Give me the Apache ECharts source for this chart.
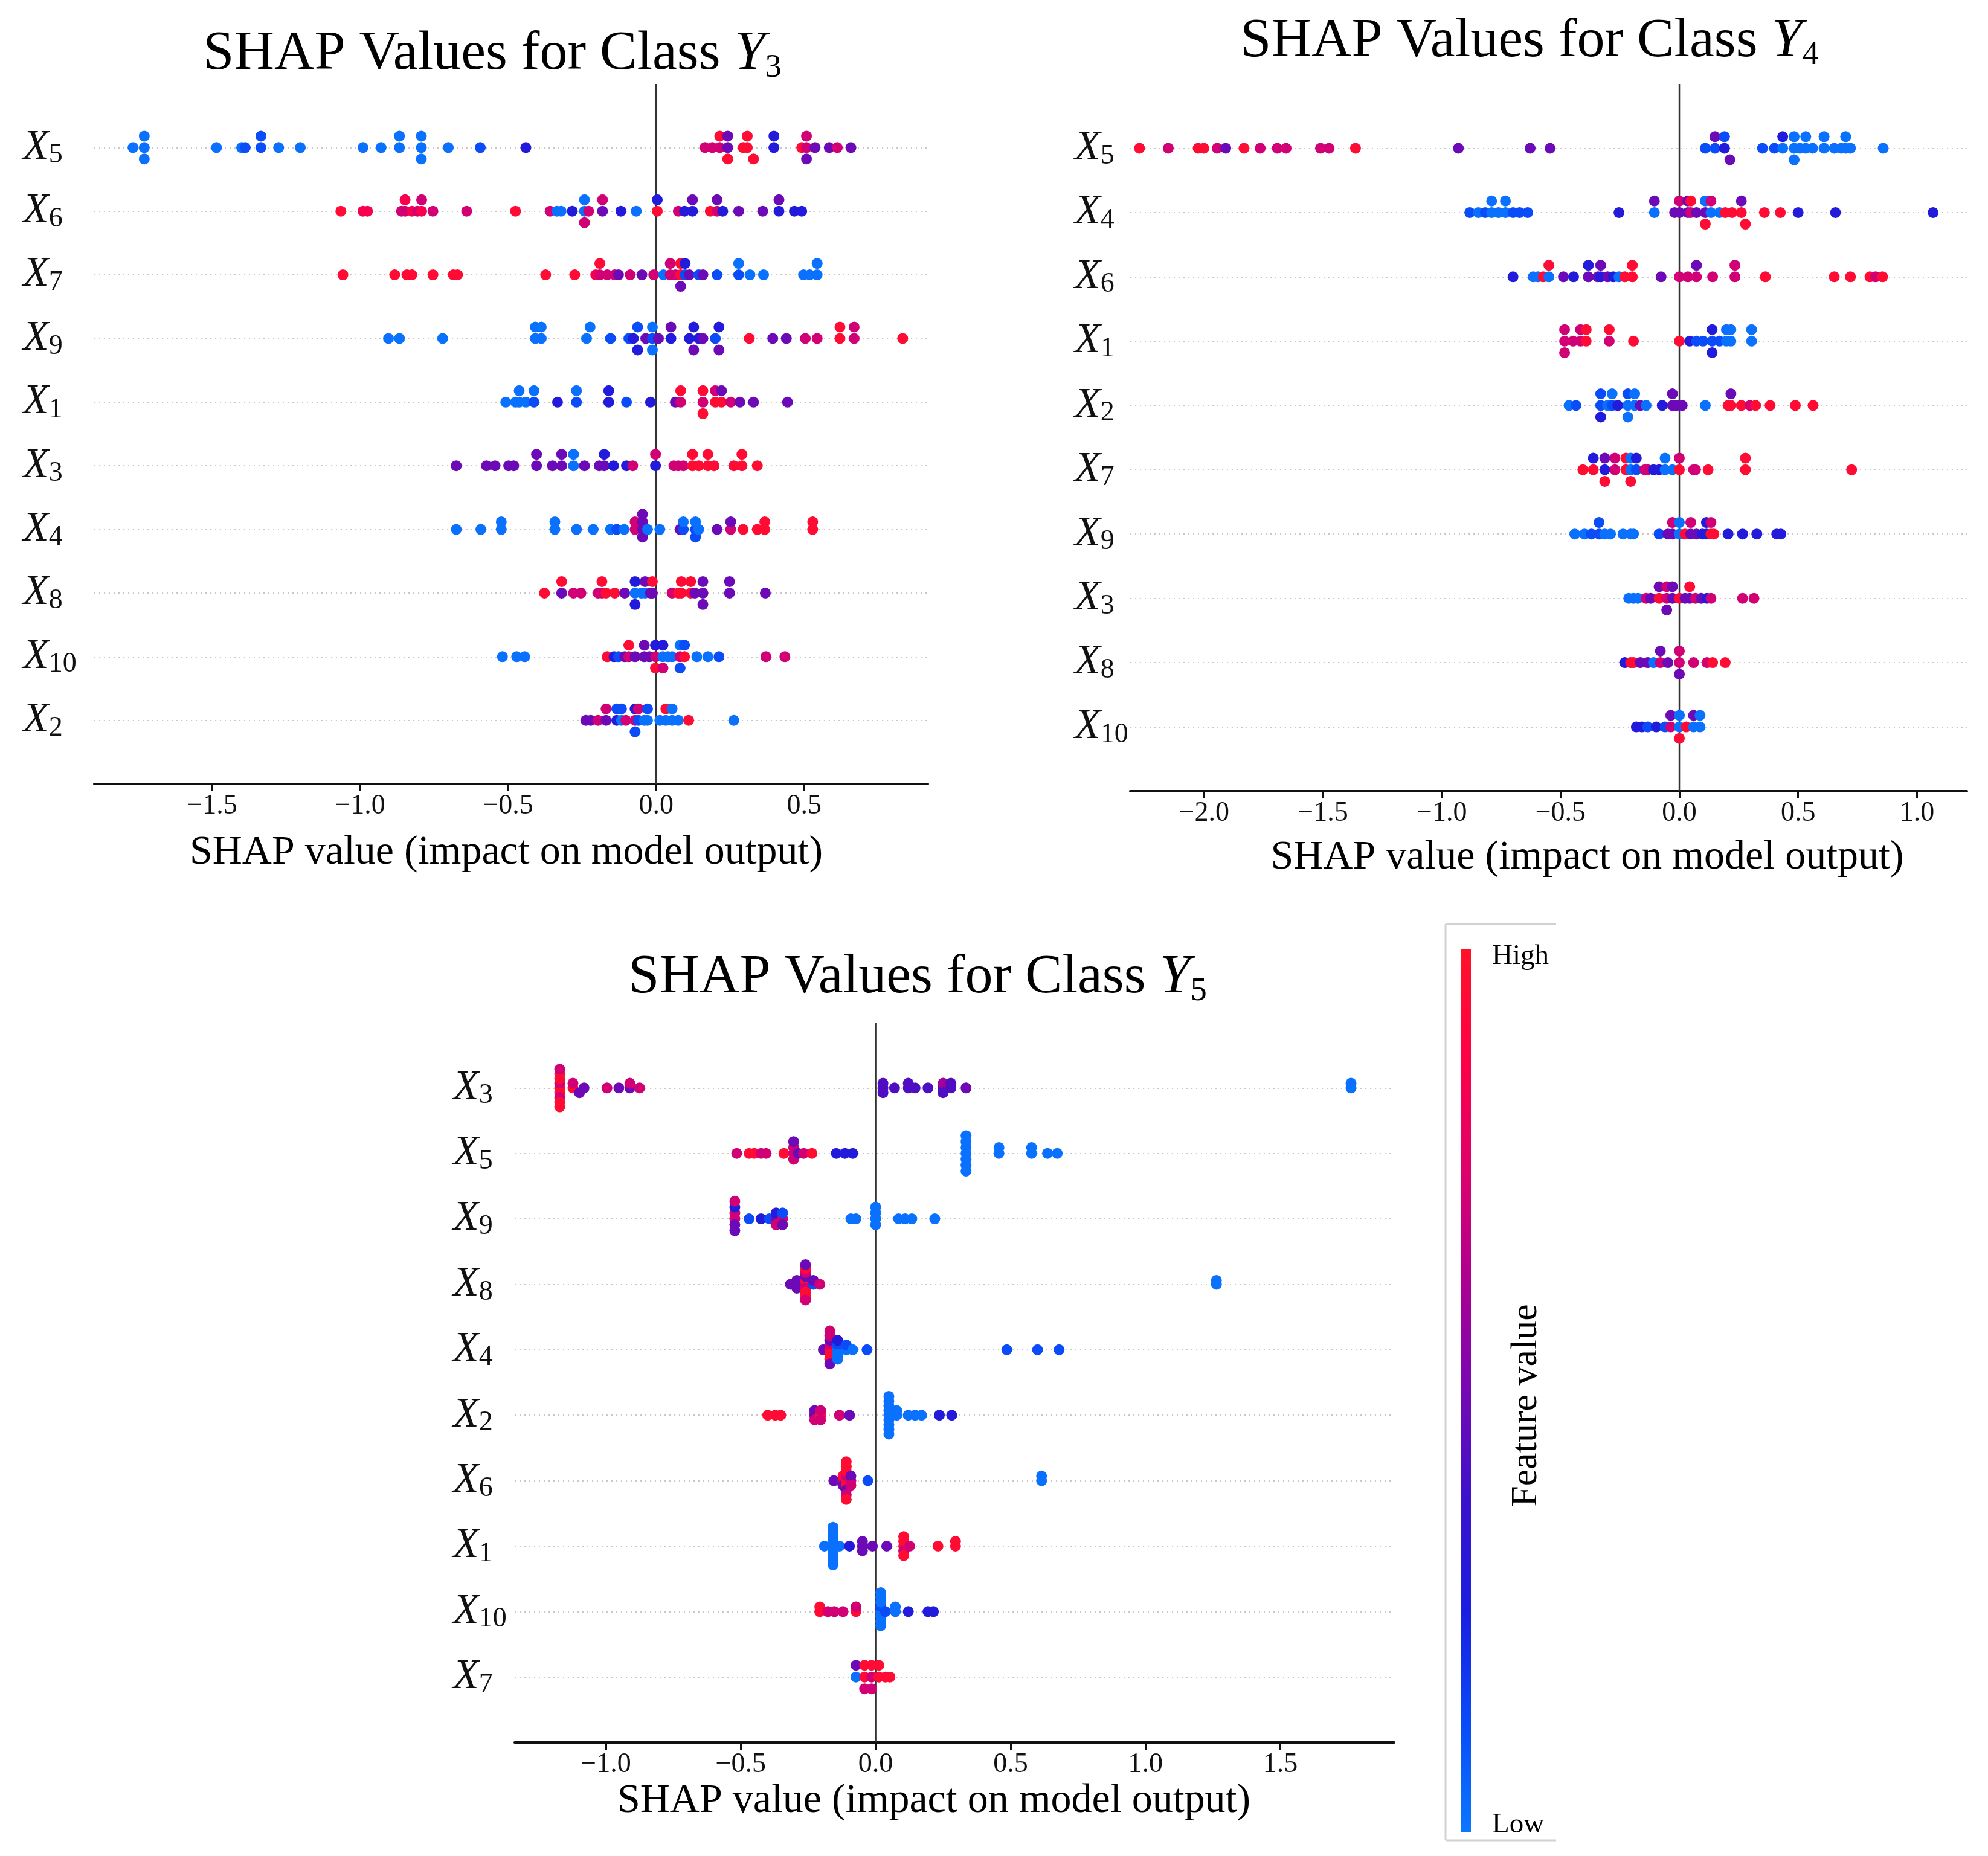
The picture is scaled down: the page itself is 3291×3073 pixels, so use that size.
<!DOCTYPE html>
<html>
<head>
<meta charset="utf-8">
<script src="https://cdn.jsdelivr.net/npm/echarts@6/dist/echarts.min.js"></script>
<style>
html, body { margin: 0; padding: 0; background: #fff; }
#main { width: 3291px; height: 3073px; }
</style>
</head>
<body>
<div id="main"></div>
<script>
var FONT = 'Liberation Serif';

// feature order (subscripts of X), top row first
var featY3 = ['5', '6', '7', '9', '1', '3', '4', '8', '10', '2'];
var featY4 = ['5', '4', '6', '1', '2', '7', '9', '3', '8', '10'];
var featY5 = ['3', '5', '9', '8', '4', '2', '6', '1', '10', '7'];

// tick labels of each x axis
var ticksY3 = [-1.5, -1, -0.5, 0, 0.5];
var ticksY4 = [-2, -1.5, -1, -0.5, 0, 0.5, 1];
var ticksY5 = [-1, -0.5, 0, 0.5, 1, 1.5];

// colormap low -> high feature value
var shapColors = ['#0a78ff', '#0a4af8', '#1a1ee0', '#3a12cc', '#7608b4', '#ac0090', '#de006c', '#ff0046', '#ff1228'];

// [shap value, feature value 0..1] per row, rows in the order of featY*
var pointsY3 = [
  [[-1.767,.02],[-1.729,.02],[-1.729,.02],[-1.729,.02],[-1.485,.02],[-1.40,.02],[-1.388,.12],[-1.335,.12],[-1.335,.12],[-1.275,.02],[-1.202,.02],[-0.990,.02],[-0.929,.02],[-0.867,.02],[-0.867,.02],[-0.793,.02],[-0.793,.02],[-0.793,.02],[-0.702,.02],[-0.594,.12],[-0.440,.28],
   [0.165,.72],[0.19,.72],[0.215,.72],[0.215,.95],[0.242,.48],[0.242,.48],[0.242,.95],[0.294,.95],[0.308,.95],[0.308,.95],[0.329,.95],[0.398,.28],[0.398,.28],[0.492,.95],[0.508,.72],[0.508,.72],[0.508,.48],[0.537,.48],[0.585,.48],[0.612,.72],[0.658,.48]],
  [[-1.065,.95],[-0.99,.85],[-0.975,.85],[-0.86,.72],[-0.848,.72],[-0.848,.85],[-0.825,.85],[-0.806,.72],[-0.792,.85],[-0.792,.72],[-0.754,.72],[-0.64,.72],[-0.475,.95],[-0.358,.72],[-0.335,.02],[-0.321,.02],[-0.283,.28],[-0.242,.02],[-0.242,.02],[-0.242,.72],[-0.228,.72],[-0.181,.48],[-0.181,.72],[-0.119,.28],[-0.067,.02],[0.004,.95],[0.004,.28],[0.075,.72],[0.096,.28],[0.123,.28],[0.123,.48],[0.183,.95],[0.206,.72],[0.206,.48],[0.225,.28],[0.279,.48],[0.36,.48],[0.415,.28],[0.415,.48],[0.467,.28],[0.492,.28]],
  [[-1.058,.95],[-0.883,.95],[-0.842,.95],[-0.825,.95],[-0.754,.95],[-0.685,.95],[-0.671,.95],[-0.373,.95],[-0.275,.95],[-0.204,.85],[-0.19,.72],[-0.19,.95],[-0.165,.72],[-0.14,.72],[-0.127,.48],[-0.0875,.72],[-0.048,.48],[-0.008,.72],[0.025,.02],[0.048,.72],[0.048,.72],[0.065,.72],[0.083,.95],[0.083,.95],[0.083,.48],[0.098,.12],[0.098,.28],[0.1125,.48],[0.144,.12],[0.158,.48],[0.206,.12],[0.279,.12],[0.279,.02],[0.317,.02],[0.363,.02],[0.498,.02],[0.519,.02],[0.544,.02],[0.544,.02]],
  [[-0.904,.02],[-0.867,.02],[-0.721,.02],[-0.408,.02],[-0.408,.02],[-0.388,.02],[-0.388,.02],[-0.235,.02],[-0.223,.02],[-0.154,.12],[-0.092,.12],[-0.077,.28],[-0.0625,.12],[-0.0625,.28],[-0.035,.48],[-0.0125,.12],[-0.0125,.02],[-0.0125,.02],[0.008,.48],[0.05,.28],[0.05,.48],[0.1125,.28],[0.127,.28],[0.127,.48],[0.144,.28],[0.158,.48],[0.2,.12],[0.2125,.28],[0.2125,.48],[0.315,.95],[0.394,.48],[0.44,.48],[0.504,.72],[0.544,.72],[0.621,.95],[0.621,.95],[0.669,.72],[0.669,.72],[0.833,.95]],
  [[-0.508,.02],[-0.475,.02],[-0.4625,.02],[-0.4625,.02],[-0.44,.02],[-0.4125,.12],[-0.4125,.02],[-0.333,.28],[-0.269,.12],[-0.269,.02],[-0.16,.28],[-0.16,.28],[-0.1,.12],[-0.019,.28],[0.065,.48],[0.083,.72],[0.083,.95],[0.158,.72],[0.158,.95],[0.158,.95],[0.2,.95],[0.2,.72],[0.221,.95],[0.221,.48],[0.252,.72],[0.283,.48],[0.329,.48],[0.444,.48]],
  [[-0.675,.48],[-0.573,.48],[-0.544,.48],[-0.498,.48],[-0.481,.48],[-0.404,.48],[-0.404,.48],[-0.35,.48],[-0.319,.48],[-0.319,.48],[-0.279,.02],[-0.279,.02],[-0.242,.48],[-0.192,.48],[-0.175,.48],[-0.175,.28],[-0.144,.28],[-0.1,.28],[-0.079,.72],[-0.002,.28],[-0.002,.72],[0.06,.72],[0.075,.72],[0.092,.72],[0.123,.95],[0.123,.95],[0.144,.95],[0.175,.95],[0.175,.95],[0.196,.95],[0.2625,.95],[0.29,.95],[0.29,.95],[0.342,.95]],
  [[-0.675,.02],[-0.592,.02],[-0.523,.02],[-0.523,.02],[-0.342,.02],[-0.342,.02],[-0.269,.02],[-0.2125,.02],[-0.154,.02],[-0.133,.12],[-0.108,.02],[-0.071,.72],[-0.071,.72],[-0.046,.48],[-0.046,.48],[-0.046,.48],[-0.046,.48],[-0.029,.02],[0.0125,.02],[0.081,.48],[0.092,.12],[0.092,.02],[0.133,.12],[0.133,.02],[0.133,.12],[0.144,.02],[0.206,.48],[0.252,.72],[0.252,.48],[0.294,.95],[0.342,.95],[0.367,.95],[0.367,.95],[0.529,.95],[0.529,.95]],
  [[-0.377,.95],[-0.319,.48],[-0.319,.95],[-0.279,.72],[-0.254,.72],[-0.196,.72],[-0.183,.72],[-0.183,.95],[-0.169,.95],[-0.14,.95],[-0.106,.48],[-0.071,.02],[-0.071,.28],[-0.071,.28],[-0.05,.02],[-0.0375,.02],[-0.0375,.48],[-0.019,.48],[-0.0125,.48],[-0.0125,.95],[0.054,.72],[0.075,.95],[0.085,.95],[0.085,.95],[0.117,.95],[0.117,.95],[0.131,.48],[0.158,.48],[0.158,.48],[0.158,.48],[0.248,.48],[0.248,.48],[0.369,.48]],
  [[-0.519,.02],[-0.471,.02],[-0.444,.02],[-0.165,.95],[-0.142,.28],[-0.127,.12],[-0.106,.48],[-0.092,.72],[-0.092,.95],[-0.071,.48],[-0.04,.48],[-0.04,.48],[-0.023,.48],[-0.002,.72],[-0.002,.28],[-0.002,.95],[0.023,.02],[0.023,.28],[0.023,.72],[0.04,.02],[0.054,.02],[0.081,.72],[0.081,.02],[0.081,.12],[0.096,.95],[0.096,.12],[0.1375,.02],[0.175,.02],[0.2125,.12],[0.371,.72],[0.435,.72]],
  [[-0.2375,.48],[-0.221,.48],[-0.196,.72],[-0.169,.48],[-0.169,.72],[-0.133,.28],[-0.133,.12],[-0.117,.02],[-0.117,.12],[-0.102,.72],[-0.071,.72],[-0.071,.28],[-0.071,.12],[-0.06,.12],[-0.06,.72],[-0.04,.02],[-0.029,.02],[-0.029,.12],[0.0125,.02],[0.033,.02],[0.033,.95],[0.054,.02],[0.054,.02],[0.075,.02],[0.11,.95],[0.2625,.02]]
];

var pointsY4 = [
  [[-2.272,.95],[-2.151,.72],[-2.025,.95],[-2.001,.95],[-1.945,.72],[-1.909,.48],[-1.832,.95],[-1.764,.72],[-1.692,.72],[-1.655,.72],[-1.51,.72],[-1.474,.72],[-1.363,.95],[-0.93,.48],[-0.628,.48],[-0.544,.48],
   [0.109,.12],[0.15,.12],[0.15,.48],[0.19,.28],[0.19,.12],[0.213,.48],[0.35,.12],[0.40,.12],[0.435,.02],[0.435,.28],[0.483,.02],[0.483,.02],[0.483,.02],[0.507,.02],[0.532,.02],[0.532,.02],[0.561,.02],[0.609,.02],[0.609,.02],[0.652,.02],[0.681,.02],[0.70,.02],[0.70,.02],[0.72,.02],[0.858,.02]],
  [[-0.882,.12],[-0.846,.02],[-0.817,.12],[-0.79,.02],[-0.79,.02],[-0.761,.02],[-0.732,.02],[-0.732,.02],[-0.70,.12],[-0.672,.12],[-0.638,.12],[-0.254,.28],[-0.105,.02],[-0.105,.48],[-0.02,.48],[0.0,.48],[0.0,.72],[0.036,.48],[0.036,.48],[0.048,.72],[0.048,.95],[0.072,.48],[0.109,.48],[0.109,.02],[0.109,.95],[0.133,.02],[0.133,.72],[0.169,.02],[0.193,.95],[0.222,.95],[0.261,.95],[0.261,.48],[0.278,.95],[0.358,.95],[0.425,.95],[0.50,.28],[0.657,.28],[1.068,.28]],
  [[-0.70,.28],[-0.615,.02],[-0.595,.02],[-0.573,.95],[-0.549,.02],[-0.549,.95],[-0.488,.48],[-0.445,.28],[-0.383,.48],[-0.383,.28],[-0.343,.48],[-0.331,.28],[-0.331,.48],[-0.302,.48],[-0.278,.28],[-0.254,.02],[-0.23,.95],[-0.198,.95],[-0.198,.95],[-0.077,.48],[0.0,.72],[0.036,.72],[0.072,.72],[0.072,.48],[0.14,.72],[0.234,.72],[0.234,.72],[0.362,.95],[0.652,.95],[0.72,.95],[0.802,.95],[0.826,.72],[0.855,.95]],
  [[-0.483,.72],[-0.483,.72],[-0.483,.72],[-0.447,.72],[-0.416,.72],[-0.416,.72],[-0.392,.95],[-0.392,.95],[-0.295,.72],[-0.295,.95],[-0.193,.95],[0.0,.95],[0.0435,.28],[0.072,.12],[0.1,.12],[0.138,.12],[0.138,.28],[0.138,.28],[0.169,.12],[0.198,.02],[0.198,.02],[0.217,.02],[0.217,.02],[0.304,.02],[0.304,.02]],
  [[-0.464,.02],[-0.435,.12],[-0.331,.12],[-0.331,.12],[-0.331,.28],[-0.302,.02],[-0.283,.12],[-0.283,.02],[-0.259,.28],[-0.217,.02],[-0.217,.12],[-0.217,.02],[-0.188,.02],[-0.188,.02],[-0.164,.48],[-0.14,.02],[-0.072,.28],[-0.029,.48],[-0.029,.48],[-0.012,.48],[0.012,.48],[0.109,.02],[0.205,.95],[0.217,.95],[0.217,.48],[0.261,.95],[0.297,.72],[0.321,.95],[0.382,.95],[0.488,.95],[0.563,.95]],
  [[-0.406,.95],[-0.362,.95],[-0.362,.28],[-0.314,.28],[-0.314,.48],[-0.314,.95],[-0.271,.72],[-0.271,.72],[-0.225,.95],[-0.225,.95],[-0.205,.02],[-0.205,.02],[-0.205,.95],[-0.181,.12],[-0.181,.28],[-0.145,.72],[-0.133,.72],[-0.109,.28],[-0.085,.28],[-0.06,.02],[-0.06,.02],[-0.029,.02],[0.0,.95],[0.0,.72],[0.06,.72],[0.068,.72],[0.121,.95],[0.278,.95],[0.278,.95],[0.725,.95]],
  [[-0.44,.02],[-0.399,.02],[-0.37,.12],[-0.338,.12],[-0.338,.12],[-0.314,.02],[-0.29,.02],[-0.237,.02],[-0.205,.02],[-0.193,.02],[-0.085,.12],[-0.048,.48],[-0.029,.48],[-0.029,.72],[0.0,.02],[0.0,.02],[0.024,.95],[0.048,.48],[0.048,.72],[0.072,.48],[0.097,.28],[0.114,.28],[0.114,.28],[0.133,.95],[0.133,.72],[0.145,.95],[0.205,.28],[0.266,.28],[0.326,.28],[0.41,.28],[0.427,.28]],
  [[-0.213,.02],[-0.193,.02],[-0.174,.02],[-0.14,.72],[-0.121,.48],[-0.085,.95],[-0.085,.48],[-0.053,.72],[-0.053,.72],[-0.053,.48],[-0.029,.48],[-0.029,.48],[0.0,.95],[0.024,.48],[0.0435,.48],[0.0435,.95],[0.068,.72],[0.092,.48],[0.116,.28],[0.133,.72],[0.266,.72],[0.314,.72]],
  [[-0.23,.28],[-0.205,.95],[-0.193,.95],[-0.164,.48],[-0.133,.48],[-0.109,.02],[-0.08,.72],[-0.08,.48],[-0.048,.48],[0.0,.72],[0.0,.72],[0.0,.48],[0.06,.72],[0.116,.72],[0.14,.95],[0.193,.95]],
  [[-0.181,.28],[-0.157,.28],[-0.133,.12],[-0.097,.28],[-0.06,.12],[-0.036,.72],[-0.036,.48],[0.0,.02],[0.0,.02],[0.0,.95],[0.029,.95],[0.06,.02],[0.06,.48],[0.087,.02],[0.087,.02]]
];

var pointsY5 = [
  [[-1.171,.95],[-1.171,.72],[-1.171,.95],[-1.171,.95],[-1.171,.72],[-1.171,.95],[-1.171,.95],[-1.171,.72],[-1.171,.95],[-1.122,.95],[-1.122,.72],[-1.098,.48],[-1.081,.48],[-0.996,.72],[-0.952,.48],[-0.911,.48],[-0.911,.72],[-0.875,.72],
   [0.027,.42],[0.027,.42],[0.027,.42],[0.07,.42],[0.121,.42],[0.121,.42],[0.146,.42],[0.194,.42],[0.25,.42],[0.25,.6],[0.25,.42],[0.279,.42],[0.279,.42],[0.335,.48],[1.762,.02],[1.762,.02]],
  [[-0.515,.72],[-0.469,.95],[-0.45,.95],[-0.425,.72],[-0.406,.72],[-0.34,.95],[-0.304,.72],[-0.304,.72],[-0.304,.72],[-0.304,.48],[-0.287,.48],[-0.267,.72],[-0.236,.95],[-0.146,.28],[-0.114,.28],[-0.085,.28],
   [0.335,.02],[0.335,.02],[0.335,.02],[0.335,.02],[0.335,.02],[0.335,.02],[0.335,.02],[0.457,.02],[0.457,.02],[0.578,.02],[0.578,.02],[0.637,.02],[0.673,.02]],
  [[-0.522,.72],[-0.522,.72],[-0.522,.48],[-0.522,.28],[-0.522,.48],[-0.522,.72],[-0.469,.12],[-0.425,.28],[-0.394,.12],[-0.369,.48],[-0.369,.28],[-0.369,.72],[-0.345,.72],[-0.345,.12],[-0.345,.48],[-0.092,.02],[-0.073,.02],[0.0,.02],[0.0,.02],[0.0,.02],[0.0,.02],[0.085,.02],[0.109,.02],[0.134,.02],[0.219,.02]],
  [[-0.316,.48],[-0.292,.48],[-0.292,.48],[-0.292,.48],[-0.26,.72],[-0.26,.95],[-0.26,.72],[-0.26,.48],[-0.26,.95],[-0.26,.72],[-0.26,.95],[-0.26,.95],[-0.26,.72],[-0.26,.48],[-0.231,.12],[-0.231,.48],[-0.207,.72],[1.263,.02],[1.263,.02]],
  [[-0.194,.48],[-0.17,.95],[-0.17,.72],[-0.17,.95],[-0.17,.48],[-0.17,.95],[-0.17,.72],[-0.17,.48],[-0.17,.72],[-0.141,.02],[-0.141,.12],[-0.141,.02],[-0.141,.28],[-0.141,.02],[-0.109,.02],[-0.109,.12],[-0.085,.02],[-0.032,.12],[0.486,.12],[0.6,.12],[0.68,.12]],
  [[-0.40,.95],[-0.372,.95],[-0.352,.95],[-0.226,.48],[-0.226,.48],[-0.226,.72],[-0.204,.95],[-0.204,.72],[-0.204,.72],[-0.134,.72],[-0.097,.48],[0.049,.02],[0.049,.02],[0.049,.02],[0.049,.02],[0.049,.02],[0.049,.02],[0.049,.02],[0.049,.02],[0.049,.02],[0.078,.02],[0.078,.02],[0.121,.02],[0.146,.02],[0.17,.02],[0.236,.28],[0.282,.28]],
  [[-0.155,.48],[-0.121,.72],[-0.121,.95],[-0.121,.48],[-0.109,.95],[-0.109,.72],[-0.109,.95],[-0.109,.95],[-0.109,.48],[-0.109,.95],[-0.109,.72],[-0.109,.95],[-0.109,.95],[-0.092,.72],[-0.092,.48],[-0.092,.72],[-0.029,.12],[0.615,.02],[0.615,.02]],
  [[-0.19,.02],[-0.158,.02],[-0.158,.02],[-0.158,.02],[-0.158,.02],[-0.158,.02],[-0.158,.02],[-0.158,.02],[-0.158,.02],[-0.158,.02],[-0.134,.02],[-0.097,.28],[-0.049,.48],[-0.049,.48],[-0.049,.48],[-0.012,.48],[0.041,.48],[0.104,.95],[0.104,.95],[0.104,.72],[0.104,.95],[0.104,.95],[0.126,.72],[0.231,.95],[0.296,.95],[0.296,.95]],
  [[-0.207,.95],[-0.207,.95],[-0.177,.72],[-0.153,.72],[-0.121,.72],[-0.073,.95],[-0.073,.72],[0.019,.02],[0.019,.12],[0.019,.02],[0.019,.02],[0.019,.02],[0.019,.02],[0.019,.02],[0.019,.02],[0.036,.12],[0.073,.02],[0.073,.02],[0.121,.28],[0.194,.28],[0.214,.28]],
  [[-0.073,.02],[-0.073,.48],[-0.041,.95],[-0.041,.95],[-0.041,.72],[-0.015,.72],[-0.015,.95],[-0.015,.72],[0.012,.95],[0.012,.95],[0.036,.95],[0.053,.95]]
];

// beeswarm offsets, same binning as shap.summary_plot (100 bins, row height 0.4)
function swarm(row) {
    var nbins = 100;
    var mn = Infinity, mx = -Infinity;
    row.forEach(function (p) { mn = Math.min(mn, p[0]); mx = Math.max(mx, p[0]); });
    var quant = row.map(function (p) { return Math.round(nbins * (p[0] - mn) / (mx - mn + 1e-8)); });
    var inds = row.map(function (p, i) { return i; });
    inds.sort(function (a, b) { return quant[a] - quant[b] || a - b; });
    var ys = row.map(function () { return 0; });
    var layer = 0, last = -1;
    inds.forEach(function (ind) {
        if (quant[ind] !== last) layer = 0;
        ys[ind] = Math.ceil(layer / 2) * ((layer % 2) * 2 - 1);
        layer++;
        last = quant[ind];
    });
    var top = Math.max.apply(null, ys.map(function (y) { return y + 1; }));
    return ys.map(function (y) { return y * 0.9 * (0.4 / top); });
}

function buildData(points) {
    var n = points.length, out = [];
    points.forEach(function (row, i) {
        var off = swarm(row);
        row.forEach(function (p, j) {
            out.push([p[0], n - 1 - i + off[j], p[1]]);
        });
    });
    return out;
}

function fmtTick(v) {
    return (v < 0 ? '\u2212' : '') + Math.abs(v).toFixed(1);
}

var labelRich = {
    x: { fontFamily: FONT, fontStyle: 'italic', fontWeight: 'normal', fontSize: 70, lineHeight: 72, color: '#111' },
    s: { fontFamily: FONT, fontWeight: 'normal', fontSize: 46, lineHeight: 16, verticalAlign: 'bottom', color: '#111' }
};
var titleRich = {
    a: { fontFamily: FONT, fontWeight: 'normal', fontSize: 92, lineHeight: 100, color: '#000' },
    y: { fontFamily: FONT, fontStyle: 'italic', fontWeight: 'normal', fontSize: 92, lineHeight: 100, color: '#000' },
    s: { fontFamily: FONT, fontWeight: 'normal', fontSize: 54, lineHeight: 34, verticalAlign: 'bottom', color: '#000' }
};

function makeY(idx, feats, margin) {
    return {
        gridIndex: idx, type: 'value', min: -1, max: 10, interval: 1,
        axisLine: { show: false }, axisTick: { show: false },
        splitLine: { show: true, showMinLine: false, showMaxLine: false,
            lineStyle: { color: '#c8c8c8', width: 2, type: [2, 6] } },
        axisLabel: {
            margin: margin, align: 'left', rich: labelRich,
            formatter: function (v) {
                var r = Math.round(v);
                if (r < 0 || r >= feats.length) return '';
                return '{x|X}{s|' + feats[feats.length - 1 - r] + '}';
            }
        }
    };
}

function makeX(idx, min, max, ticks, gap, pad) {
    return {
        gridIndex: idx, type: 'value', min: min, max: max,
        splitLine: { show: false },
        axisLine: { show: true, onZero: false, lineStyle: { color: '#111', width: 4 } },
        axisTick: { show: true, customValues: ticks, length: 12, lineStyle: { color: '#111', width: 3 } },
        axisLabel: { customValues: ticks, formatter: fmtTick, fontFamily: FONT, fontSize: 46, color: '#111', margin: 14 },
        name: 'SHAP value (impact on model output)',
        nameLocation: 'middle', nameGap: gap,
        nameTextStyle: { fontFamily: FONT, fontSize: 68, color: '#000', padding: pad }
    };
}

function scatter(idx, pts) {
    return { type: 'scatter', xAxisIndex: idx, yAxisIndex: idx, data: buildData(pts),
        symbolSize: 18, z: 3, itemStyle: { opacity: 1 } };
}
function zeroLine(idx) {
    return { type: 'line', xAxisIndex: idx, yAxisIndex: idx, data: [[0, -1], [0, 10]],
        symbol: 'none', silent: true, z: 2, lineStyle: { color: '#333', width: 2.5 } };
}

var barStops = shapColors.map(function (c, i) {
    return { offset: 1 - i / (shapColors.length - 1), color: c };
}).reverse();

function makeTitle(sub, x, y) {
    return { text: '{a|SHAP Values for Class }{y|Y}{s|' + sub + '}', left: x, top: y,
        textAlign: 'center', padding: 0,
        textStyle: { fontFamily: FONT, fontWeight: 'normal', rich: titleRich } };
}

var myChart = echarts.init(document.getElementById('main'));
var option = {
    backgroundColor: '#fff',
    animation: false,
    title: [ makeTitle('3', 815, 40), makeTitle('4', 2532, 19), makeTitle('5', 1519, 1569) ],
    grid: [
        { left: 156, top: 139, width: 1380, height: 1159 },
        { left: 1871, top: 139, width: 1385, height: 1171 },
        { left: 852, top: 1693, width: 1456, height: 1192 }
    ],
    xAxis: [
        makeX(0, -1.898, 0.918, ticksY3, 80, [0, 16, 0, 0]),
        makeX(1, -2.311, 1.21, ticksY4, 76, [0, 0, 0, 128]),
        makeX(2, -1.338, 1.922, ticksY5, 63, [0, 68, 0, 0])
    ],
    yAxis: [
        makeY(0, featY3, 118),
        makeY(1, featY4, 92),
        makeY(2, featY5, 102)
    ],
    visualMap: {
        type: 'continuous', show: false, min: 0, max: 1, dimension: 2,
        seriesIndex: [0, 1, 2], inRange: { color: shapColors }
    },
    series: [
        scatter(0, pointsY3), scatter(1, pointsY4), scatter(2, pointsY5),
        zeroLine(0), zeroLine(1), zeroLine(2)
    ],
    graphic: [
        { type: 'line', shape: { x1: 2393, y1: 1530, x2: 2393, y2: 3047 }, style: { stroke: '#d2d2d2', lineWidth: 3 } },
        { type: 'line', shape: { x1: 2393, y1: 1530, x2: 2576, y2: 1530 }, style: { stroke: '#d2d2d2', lineWidth: 3 } },
        { type: 'line', shape: { x1: 2393, y1: 3047, x2: 2576, y2: 3047 }, style: { stroke: '#d2d2d2', lineWidth: 3 } },
        { type: 'rect', shape: { x: 2418, y: 1572, width: 17, height: 1462 },
          style: { fill: { type: 'linear', x: 0, y: 0, x2: 0, y2: 1, colorStops: barStops } } },
        { type: 'text', x: 2470, y: 1584, style: { text: 'High', fontFamily: FONT, fontSize: 47, fill: '#000', verticalAlign: 'middle' } },
        { type: 'text', x: 2470, y: 3022, style: { text: 'Low', fontFamily: FONT, fontSize: 47, fill: '#000', verticalAlign: 'middle' } },
        { type: 'text', x: 2527, y: 2327, rotation: Math.PI / 2,
          style: { text: 'Feature value', fontFamily: FONT, fontSize: 62, fill: '#000', align: 'center', verticalAlign: 'middle' } }
    ]
};
myChart.setOption(option);
</script>
</body>
</html>
